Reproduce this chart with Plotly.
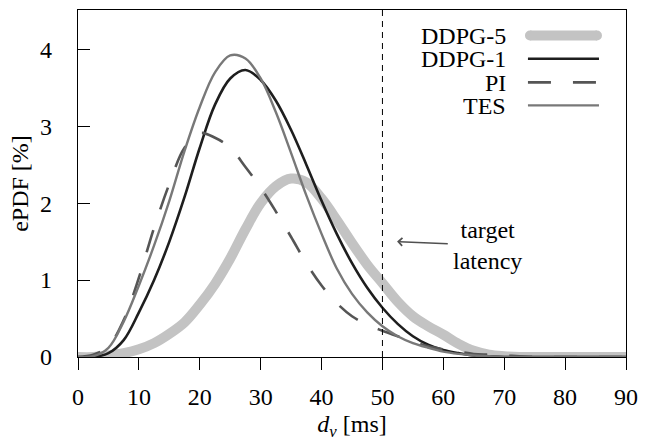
import plotly.graph_objects as go

# ---------------- data ----------------
x_ms = [0, 2.5, 5, 7.5, 10, 12.5, 15, 17.5, 20, 22.5, 25, 27.5, 30, 32.5, 35, 37.5,
        40, 42.5, 45, 47.5, 50, 52.5, 55, 57.5, 60, 62.5, 65, 67.5, 70, 72.5, 75,
        77.5, 80, 82.5, 85, 87.5, 90]

ddpg5 = [0, 0.0, 0.02, 0.05, 0.10, 0.18, 0.30, 0.45, 0.68, 0.95, 1.28, 1.66, 2.00, 2.22,
         2.32, 2.27, 2.06, 1.78, 1.48, 1.20, 0.96, 0.72, 0.53, 0.40, 0.29, 0.17, 0.08,
         0.03, 0.01, 0, 0, 0, 0, 0, 0, 0, 0]
ddpg1 = [0, 0.0, 0.05, 0.22, 0.58, 1.00, 1.50, 2.08, 2.72, 3.28, 3.62, 3.73, 3.60, 3.33,
         2.95, 2.50, 2.03, 1.60, 1.22, 0.90, 0.64, 0.43, 0.27, 0.16, 0.09, 0.05, 0.02,
         0.01, 0, 0, 0, 0, 0, 0, 0, 0, 0]
pi = [0, 0.03, 0.14, 0.48, 1.03, 1.68, 2.25, 2.72, 2.91, 2.85, 2.72, 2.47, 2.20, 1.89,
      1.56, 1.22, 0.93, 0.70, 0.53, 0.42, 0.34, 0.27, 0.20, 0.14, 0.10, 0.07, 0.04,
      0.03, 0.02, 0.01, 0, 0, 0, 0, 0, 0, 0]
tes = [0, 0.01, 0.12, 0.46, 0.93, 1.45, 2.03, 2.68, 3.25, 3.70, 3.92, 3.88, 3.62, 3.18,
       2.65, 2.10, 1.60, 1.15, 0.82, 0.58, 0.40, 0.27, 0.18, 0.12, 0.07, 0.04, 0.02,
       0.01, 0, 0, 0, 0, 0, 0, 0, 0, 0]

series_names = ["DDPG-5", "DDPG-1", "PI", "TES"]
series_values = [ddpg5, ddpg1, pi, tes]

x_ticks = [0, 10, 20, 30, 40, 50, 60, 70, 80, 90]
y_ticks = [0, 1, 2, 3, 4]
target_latency = 50
arrow_head = (52.4, 1.5)
note_pos = (67.3, 1.45)

# ---------------- styles ----------------
FONT = "Liberation Serif, Times New Roman, serif"
FS = 24
styles = {
    "DDPG-5": dict(color="#c3c3c3", width=10, dash="solid"),
    "DDPG-1": dict(color="#1e1e1e", width=2.6, dash="solid"),
    "PI": dict(color="#555555", width=2.6, dash="23px,22px"),
    "TES": dict(color="#787878", width=2.4, dash="solid"),
}

fig = go.Figure()
for name, vals in zip(series_names, series_values):
    st = styles[name]
    fig.add_trace(go.Scatter(
        x=x_ms, y=vals, mode="lines", name=name,
        line=dict(color=st["color"], width=st["width"], dash=st["dash"],
                  shape="spline", smoothing=1.0),
        showlegend=False,
    ))

# target latency vertical line
fig.add_shape(type="line", xref="x", yref="paper", x0=target_latency, x1=target_latency,
              y0=0, y1=1, line=dict(color="black", width=1, dash="6px,5px"), layer="above")

# note with arrow pointing at the target-latency line
fig.add_annotation(x=arrow_head[0], y=arrow_head[1], ax=note_pos[0], ay=note_pos[1],
                   xref="x", yref="y", axref="x", ayref="y",
                   text="target<br>latency", showarrow=True, arrowhead=4,
                   arrowsize=1.1, arrowwidth=1.4, arrowcolor="#505050",
                   startstandoff=4,
                   font=dict(family=FONT, size=FS, color="black"), align="center")

# manual legend (text on the left, sample line on the right)
L, R, T, B = 78.3, 626.0, 10.0, 357.5
W, H = R - L, B - T
def px(v):
    return (v - L) / W
def py(v):
    return (B - v) / H

legend_rows = [35.5, 58.8, 82.5, 105.5]
for name, row in zip(series_names, legend_rows):
    st = styles[name]
    yp = py(row)
    fig.add_annotation(x=px(507), y=yp, xref="paper", yref="paper", text=name,
                       showarrow=False, xanchor="right", yanchor="middle",
                       height=21, borderpad=0, valign="middle",
                       font=dict(family=FONT, size=FS, color="black"))
    if name == "DDPG-5":
        x0, x1 = px(530), px(597)
        r = st["width"] / 2
        for cx in (530, 597):
            fig.add_shape(type="circle", xref="paper", yref="paper",
                          x0=px(cx - r), x1=px(cx + r), y0=py(row + r), y1=py(row - r),
                          fillcolor=st["color"], line=dict(width=0))
    else:
        x0, x1 = px(528), px(599)
    fig.add_shape(type="line", xref="paper", yref="paper", x0=x0, x1=x1, y0=yp, y1=yp,
                  line=dict(color=st["color"], width=st["width"], dash=st["dash"]))

fig.update_layout(
    width=652, height=441,
    margin=dict(l=78, r=26, t=10, b=83.5),
    paper_bgcolor="white", plot_bgcolor="white",
    font=dict(family=FONT, size=FS, color="black"),
    showlegend=False,
)
fig.update_xaxes(
    range=[0, 90], tickvals=x_ticks, ticks="outside", ticklen=12, tickwidth=1,
    tickcolor="black", showline=True, linecolor="black", linewidth=1.3, mirror=True,
    showgrid=False, zeroline=False, ticklabelstandoff=6, automargin=False,
    title=dict(text="<i>d<sub>v</sub></i> [ms]", standoff=20,
               font=dict(family=FONT, size=FS)),
)
fig.update_yaxes(
    range=[0, 4.51], tickvals=y_ticks, ticks="inside", ticklen=12, tickwidth=1,
    tickcolor="black", showline=True, linecolor="black", linewidth=1.3, mirror=True,
    showgrid=False, zeroline=False, ticklabelstandoff=20, automargin=False,
    title=dict(text="ePDF [%]", standoff=4, font=dict(family=FONT, size=FS)),
)

fig.write_html("out.html")
